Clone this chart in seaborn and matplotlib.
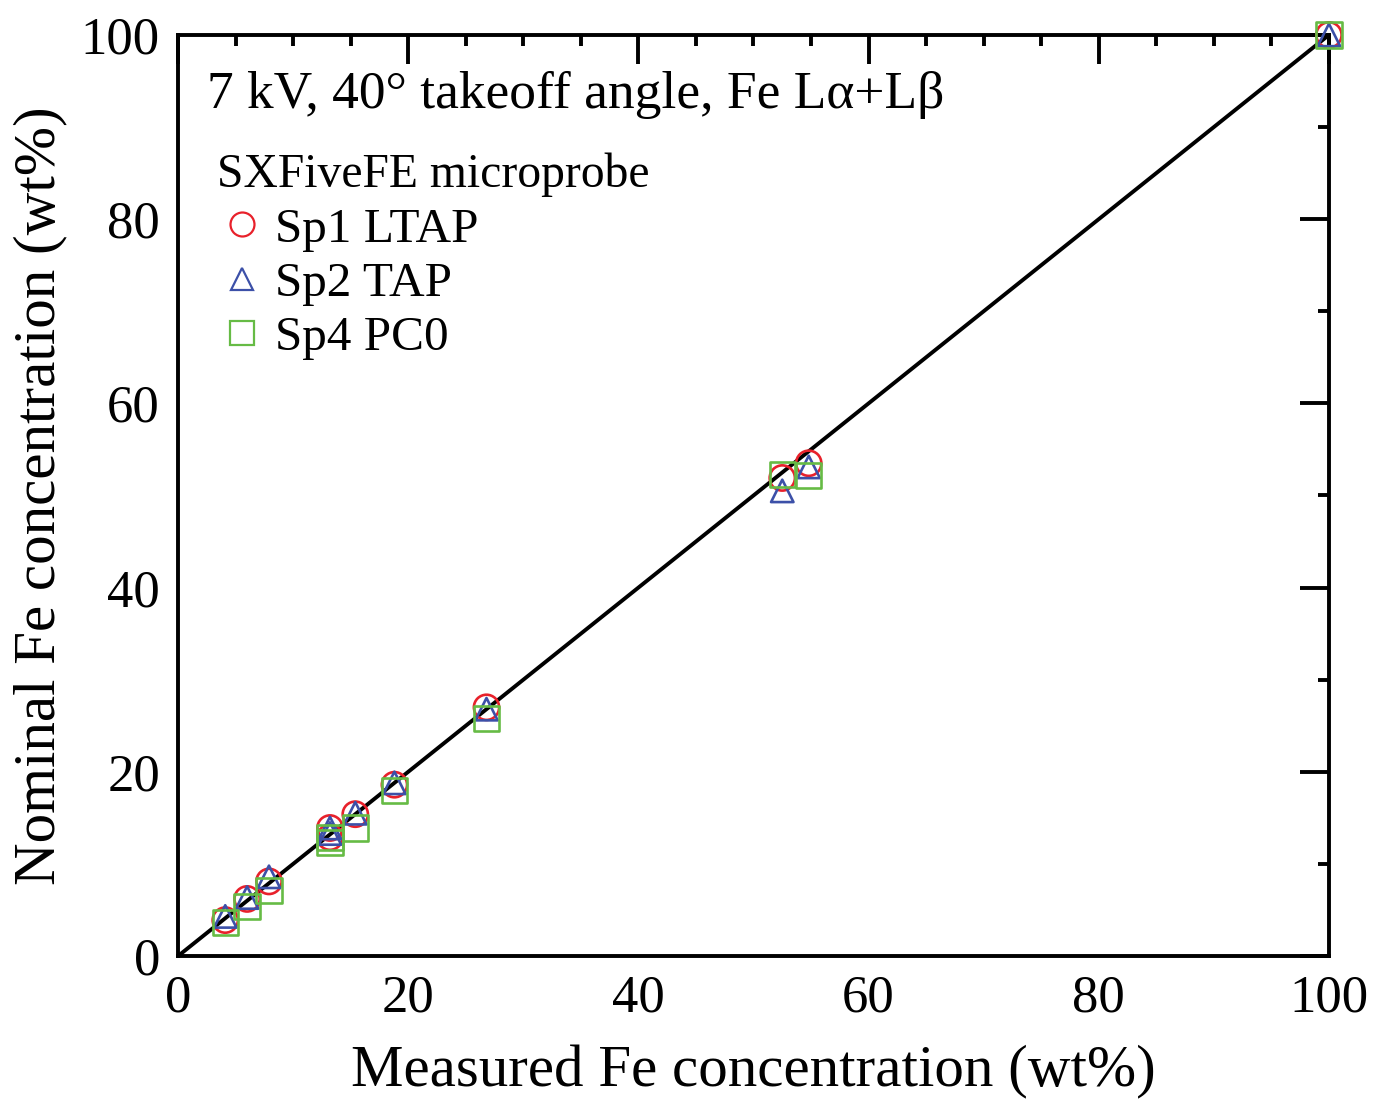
import matplotlib
matplotlib.use("Agg")
import matplotlib.pyplot as plt
from matplotlib.ticker import MultipleLocator
import seaborn as sns
import pandas as pd

# Data
measured = [4.1, 6.0, 7.9, 13.2, 13.2, 15.4, 18.8, 26.8, 52.5, 54.8, 100.0]
sp1_ltap = [3.9, 6.2, 8.1, 13.9, 12.9, 15.4, 18.6, 27.0, 51.9, 53.5, 100.0]
sp2_tap = [4.3, 6.35, 8.6, 13.9, 13.3, 15.5, 18.8, 26.8, 50.5, 53.1, 100.0]
sp4_pc0 = [3.6, 5.35, 7.1, 12.9, 12.3, 13.9, 18.0, 25.8, 52.3, 52.2, 100.0]

series_names = ["Sp1 LTAP", "Sp2 TAP", "Sp4 PC0"]
series_values = [sp1_ltap, sp2_tap, sp4_pc0]
series_colors = ["#e8212b", "#3c50a8", "#66bb45"]
series_markers = ["o", "^", "s"]
series_sizes = [330, 260, 330]

annotation = "7 kV, 40\u00b0 takeoff angle, Fe L\u03b1+L\u03b2"
legend_title = "SXFiveFE microprobe"
xlabel = "Measured Fe concentration (wt%)"
ylabel = "Nominal Fe concentration (wt%)"

sns.set_style("white")
plt.rcParams["font.family"] = ["Liberation Serif", "DejaVu Serif"]
plt.rcParams["text.color"] = "black"
plt.rcParams["axes.labelcolor"] = "black"
plt.rcParams["xtick.color"] = "black"
plt.rcParams["ytick.color"] = "black"

fig = plt.figure(figsize=(13.76, 10.99), dpi=100)
ax = fig.add_axes([0.1294, 0.1301, 0.9658 - 0.1294, 0.9682 - 0.1301])

# 1:1 line
line_df = pd.DataFrame({"x": [0, 100], "y": [0, 100]})
sns.lineplot(data=line_df, x="x", y="y", color="black", lw=2.8, ax=ax, zorder=1)

handles = []
for name, vals, col, mk, sz in zip(series_names, series_values, series_colors,
                                   series_markers, series_sizes):
    df = pd.DataFrame({"measured": measured, "nominal": vals})
    sns.scatterplot(data=df, x="measured", y="nominal", marker=mk, s=sz,
                    facecolor="none", edgecolor=col, linewidth=1.9, ax=ax,
                    zorder=3, clip_on=False)
    h = plt.Line2D([], [], linestyle="none", marker=mk, markersize=sz ** 0.5 * 0.95,
                   markerfacecolor="none", markeredgecolor=col,
                   markeredgewidth=1.6, label=name)
    handles.append(h)

ax.set_xlim(0, 100)
ax.set_ylim(0, 100)
ax.xaxis.set_major_locator(MultipleLocator(20))
ax.xaxis.set_minor_locator(MultipleLocator(5))
ax.yaxis.set_major_locator(MultipleLocator(20))
ax.yaxis.set_minor_locator(MultipleLocator(10))
ax.tick_params(which="both", direction="in", top=True, right=True,
               width=2.8, colors="black", labelsize=38)
ax.tick_params(which="major", length=21)
ax.tick_params(which="minor", length=8)
ax.tick_params(axis="x", which="major", pad=13)
ax.tick_params(axis="y", which="major", pad=13)
for sp in ax.spines.values():
    sp.set_linewidth(2.8)
    sp.set_color("black")

ax.set_xlabel(xlabel, fontsize=42.5, labelpad=17, color="black")
ax.set_ylabel(ylabel, fontsize=42.5, labelpad=10, color="black")

ax.text(2.5, 93.5, annotation, fontsize=38.5, ha="left", va="center", color="black")

leg = ax.legend(handles=handles, title=legend_title, loc="upper left",
                bbox_to_anchor=(0.034, 0.872), frameon=False, fontsize=35.5,
                title_fontsize=34.3, handlelength=1.0, handletextpad=0.18,
                labelspacing=0.2, borderpad=0, borderaxespad=0,
                alignment="left")
for t in leg.get_texts():
    t.set_color("black")
leg.get_title().set_color("black")

fig.savefig("out.png", dpi=100)
